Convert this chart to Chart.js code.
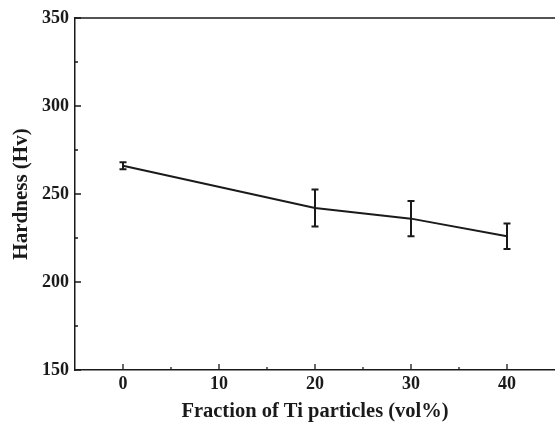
<!DOCTYPE html>
<html>
<head>
<meta charset="utf-8">
<script src="https://cdn.jsdelivr.net/npm/chart.js@4/dist/chart.umd.min.js"></script>
<style>
    html, body { margin: 0; padding: 0; background: #fff; overflow: hidden; }
    #wrap { width: 555px; height: 422px; position: relative; }
</style>
</head>
<body>
<div id="wrap"><canvas id="c"></canvas></div>
<script>
const fractions = [0, 20, 30, 40]
const hardness = [266, 242, 236, 226]
const errors = [2, 10.5, 10, 7.3]
const xTicks = [0, 10, 20, 30, 40]
const xMinor = [5, 15, 25, 35]
const yTicks = [150, 200, 250, 300, 350]
const yMinor = [175, 225, 275, 325]

const ink = '#1a1a1a'
const serif = "'Liberation Serif', 'Times New Roman', serif"

// inward ticks, top frame line and the error bars
const frame = {
    id: 'frame',
    afterDatasetsDraw(chart) {
        const ctx = chart.ctx,
            a = chart.chartArea,
            x = chart.scales.x,
            y = chart.scales.y

        ctx.save()
        ctx.strokeStyle = ink
        ctx.lineWidth = 1.5
        ctx.beginPath()
        ctx.moveTo(a.left, a.top)
        ctx.lineTo(a.right, a.top)
        ctx.stroke()

        ctx.lineWidth = 1.3
        ctx.beginPath()
        xTicks.forEach(v => { const p = x.getPixelForValue(v); ctx.moveTo(p, a.bottom); ctx.lineTo(p, a.bottom - 6) })
        xMinor.forEach(v => { const p = x.getPixelForValue(v); ctx.moveTo(p, a.bottom); ctx.lineTo(p, a.bottom - 3) })
        yTicks.forEach(v => { const p = y.getPixelForValue(v); ctx.moveTo(a.left, p); ctx.lineTo(a.left + 6, p) })
        yMinor.forEach(v => { const p = y.getPixelForValue(v); ctx.moveTo(a.left, p); ctx.lineTo(a.left + 3, p) })
        ctx.stroke()

        ctx.lineWidth = 2
        ctx.beginPath()
        fractions.forEach((f, i) => {
            const px = x.getPixelForValue(f),
                hi = y.getPixelForValue(hardness[i] + errors[i]),
                lo = y.getPixelForValue(hardness[i] - errors[i])
            ctx.moveTo(px, hi); ctx.lineTo(px, lo)
            ctx.moveTo(px - 3.5, hi); ctx.lineTo(px + 3.5, hi)
            ctx.moveTo(px - 3.5, lo); ctx.lineTo(px + 3.5, lo)
        })
        ctx.stroke()
        ctx.restore()
    }
}

new Chart(document.getElementById('c'), {
    type: 'scatter',
    data: {
        datasets: [{
            data: fractions.map((f, i) => ({x: f, y: hardness[i]})),
            showLine: true,
            borderColor: ink,
            borderWidth: 2,
            pointRadius: 0,
            fill: false
        }]
    },
    options: {
        responsive: true,
        maintainAspectRatio: false,
        animation: false,
        layout: { padding: { top: 18, left: 0, right: 0, bottom: 0 } },
        plugins: { legend: { display: false }, tooltip: { enabled: false } },
        scales: {
            x: {
                type: 'linear',
                min: -5,
                max: 45,
                afterBuildTicks: s => { s.ticks = xTicks.map(v => ({value: v})) },
                afterFit: s => { s.height = 52 },
                grid: { drawOnChartArea: false, drawTicks: false },
                border: { color: ink, width: 1.5 },
                ticks: { color: ink, padding: 4, font: { family: serif, size: 18, weight: 'bold' } },
                title: {
                    display: true,
                    text: 'Fraction of Ti particles (vol%)',
                    color: ink,
                    padding: { top: 0, bottom: -2 },
                    font: { family: serif, size: 20.5, weight: 'bold' }
                }
            },
            y: {
                min: 150,
                max: 350,
                afterBuildTicks: s => { s.ticks = yTicks.map(v => ({value: v})) },
                afterFit: s => { s.width = 75 },
                grid: { drawOnChartArea: false, drawTicks: false },
                border: { color: ink, width: 1.5 },
                ticks: { color: ink, padding: 6, font: { family: serif, size: 18, weight: 'bold' } },
                title: {
                    display: true,
                    text: 'Hardness (Hv)',
                    color: ink,
                    padding: { top: 9, bottom: 0 },
                    font: { family: serif, size: 21, weight: 'bold' }
                }
            }
        }
    },
    plugins: [frame]
})
</script>
</body>
</html>
